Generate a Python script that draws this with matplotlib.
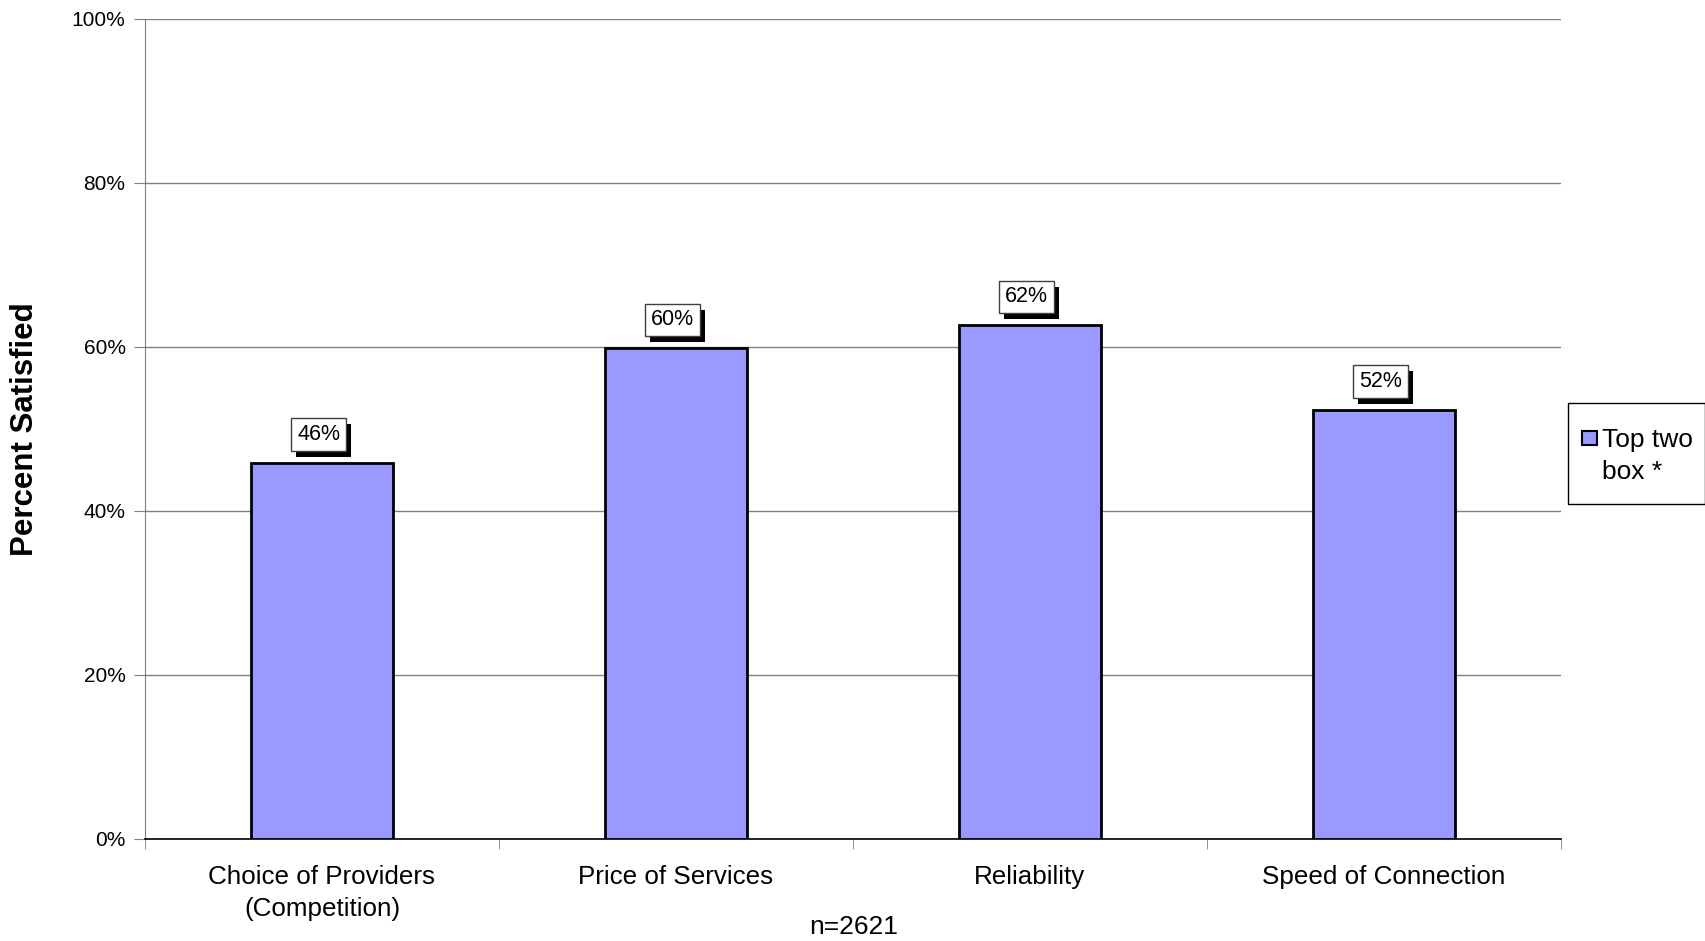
import matplotlib
matplotlib.use("Agg")
import matplotlib.pyplot as plt
from matplotlib.patches import Rectangle
from matplotlib import patheffects
from matplotlib.ticker import FixedLocator, NullFormatter

plt.rcParams['font.family'] = ['Liberation Sans', 'DejaVu Sans']

categories = ["Choice of Providers\n(Competition)", "Price of Services", "Reliability", "Speed of Connection"]
values = [45.8, 59.8, 62.6, 52.3]
value_labels = ["46%", "60%", "62%", "52%"]
yticks = [0, 20, 40, 60, 80, 100]
ytick_labels = ["0%", "20%", "40%", "60%", "80%", "100%"]
series_name = "Top two\nbox *"
note = "n=2621"

BAR_COLOR = "#9999FF"

W, H = 1706, 941
fig = plt.figure(figsize=(W / 100, H / 100), dpi=100)
ax = fig.add_axes([145 / W, 1 - 839 / H, (1561 - 145) / W, (839 - 18.5) / H])

x = list(range(len(categories)))
ax.bar(x, values, width=0.4, color=BAR_COLOR, edgecolor="black", linewidth=2, zorder=3)

ax.set_xlim(-0.5, len(categories) - 0.5)
ax.set_ylim(0, 100)
ax.set_yticks(yticks)
ax.set_yticklabels(ytick_labels, fontsize=15)
ax.yaxis.grid(True, color="#808080", linewidth=1, zorder=0)
ax.set_axisbelow(True)

ax.set_xticks(x)
ax.set_xticklabels(categories, fontsize=18.7, linespacing=1.4)
ax.tick_params(axis="x", length=0, pad=19)
ax.xaxis.set_minor_locator(FixedLocator([i - 0.5 for i in range(len(categories) + 1)]))
ax.xaxis.set_minor_formatter(NullFormatter())
ax.tick_params(axis="x", which="minor", length=7, color="#808080", direction="out")
ax.tick_params(axis="y", length=8, color="#808080", direction="out", pad=6)

for s in ["top", "right"]:
    ax.spines[s].set_visible(False)
ax.spines["left"].set_color("#808080")
ax.spines["bottom"].set_color("black")
ax.spines["bottom"].set_linewidth(1.2)

ax.set_ylabel("Percent Satisfied", fontsize=22.5, fontweight="bold")
ax.yaxis.set_label_coords(-0.074, 0.5)

for xi, v, lab in zip(x, values, value_labels):
    t = ax.annotate(lab, xy=(xi, v), xytext=(-3.5, 18), textcoords="offset pixels",
                    ha="center", va="bottom", fontsize=15.5, color="black", zorder=5,
                    bbox=dict(boxstyle="square,pad=0.27", facecolor="white", edgecolor="#404040", linewidth=1))
    t.get_bbox_patch().set_path_effects([
        patheffects.SimplePatchShadow(offset=(3.6, -4.3), shadow_rgbFace="black", alpha=1),
        patheffects.Normal()])

# legend (drawn by hand so the marker sits on the first text line, as in the original)
def fx(px):
    return px / W

def fy(py):
    return 1 - py / H

fig.add_artist(Rectangle((fx(1568), fy(504)), fx(1705) - fx(1568), fy(403) - fy(504),
                         transform=fig.transFigure, facecolor="white", edgecolor="black",
                         linewidth=1))
fig.add_artist(Rectangle((fx(1582), fy(445)), fx(1597) - fx(1582), fy(431) - fy(445),
                         transform=fig.transFigure, facecolor=BAR_COLOR, edgecolor="black",
                         linewidth=1.5))
for i, line in enumerate(series_name.split("\n")):
    fig.text(fx(1602), fy(447 + 32 * i), line, ha="left", va="baseline", fontsize=19)

fig.text(854 / W, 1 - 927 / H, note, ha="center", va="center", fontsize=19)

fig.savefig("out.png", dpi=100, facecolor="white")
